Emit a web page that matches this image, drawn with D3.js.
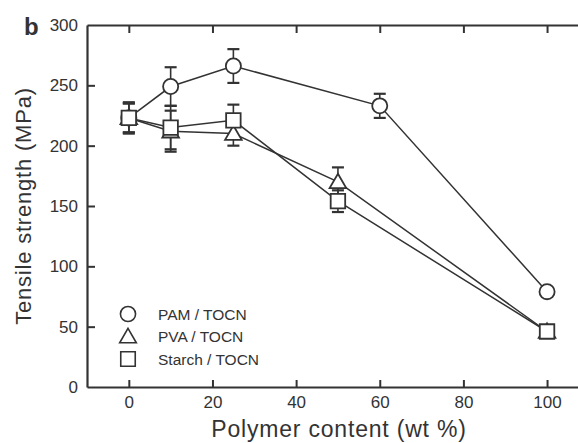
<!DOCTYPE html>
<html>
<head>
<meta charset="utf-8">
<script src="https://cdn.jsdelivr.net/npm/d3@7"></script>
<style>
  body { margin: 0; background: #fff; }
  text { font-family: "Liberation Sans", Arial, sans-serif; fill: #333; }
</style>
</head>
<body>
<div id="chart"></div>
<script>
// data
const seriesNames = ["PAM / TOCN", "PVA / TOCN", "Starch / TOCN"];
const pamX = [0, 10, 25, 60, 100];
const pamY = [223, 249, 266, 233, 79];
const pamErr = [12, 16, 14, 10, 0];
const pvaX = [0, 10, 25, 50, 100];
const pvaY = [223, 212, 210, 170, 46];
const pvaErr = [12, 17, 10, 12, 0];
const starchX = [0, 10, 25, 50, 100];
const starchY = [223, 215, 221, 154, 46];
const starchErr = [13, 18, 13, 9, 0];
const xTicks = [0, 20, 40, 60, 80, 100];
const yTicks = [0, 50, 100, 150, 200, 250, 300];

const series = [
  { name: seriesNames[0], shape: "circle", pts: pamX.map((x, i) => ({ x, y: pamY[i], e: pamErr[i] })) },
  { name: seriesNames[1], shape: "triangle", pts: pvaX.map((x, i) => ({ x, y: pvaY[i], e: pvaErr[i] })) },
  { name: seriesNames[2], shape: "square", pts: starchX.map((x, i) => ({ x, y: starchY[i], e: starchErr[i] })) }
];

const W = 578, H = 443;
const margin = { top: 25, right: 0, bottom: 56, left: 87 };
const ink = "#333";

const svg = d3.select("#chart").append("svg")
  .attr("width", W).attr("height", H);

const x = d3.scaleLinear().domain([-10, 107.4]).range([margin.left, W - margin.right]);
const y = d3.scaleLinear().domain([0, 300]).range([H - margin.bottom, margin.top]);

// axes (ticks point inward)
const gx = svg.append("g")
  .attr("transform", `translate(0,${y(0)})`)
  .call(d3.axisBottom(x).tickValues(xTicks).tickSize(-7).tickSizeOuter(0).tickPadding(9));
const gt = svg.append("g")
  .attr("transform", `translate(0,${y(300)})`)
  .call(d3.axisTop(x).tickValues(xTicks).tickSize(-8).tickSizeOuter(0).tickFormat(""));
const gy = svg.append("g")
  .attr("transform", `translate(${x(-10)},0)`)
  .call(d3.axisLeft(y).tickValues(yTicks).tickSize(-8).tickSizeOuter(0).tickPadding(9));

[gx, gt, gy].forEach(g => {
  g.select(".domain").attr("stroke", ink).attr("stroke-width", 2.2);
  g.selectAll(".tick line").attr("stroke", ink).attr("stroke-width", 2);
  g.selectAll(".tick text").style("font-size", "17px").attr("fill", ink);
});
gy.selectAll(".tick line").filter(d => d === 0 || d === 300).remove();

// axis titles
svg.append("text")
  .attr("x", 339)
  .attr("y", 437)
  .attr("text-anchor", "middle")
  .style("font-size", "23px")
  .style("letter-spacing", "0.8px")
  .text("Polymer content (wt %)");

svg.append("text")
  .attr("transform", `translate(31,${(y(0) + y(300)) / 2}) rotate(-90)`)
  .attr("text-anchor", "middle")
  .style("font-size", "22px")
  .style("letter-spacing", "0.8px")
  .text("Tensile strength (MPa)");

svg.append("text")
  .attr("x", 24).attr("y", 35)
  .style("font-size", "24px").style("font-weight", "bold")
  .attr("fill", "#222")
  .text("b");

// lines
const line = d3.line().x(d => x(d.x)).y(d => y(d.y));
svg.append("g").selectAll("path")
  .data(series)
  .join("path")
  .attr("fill", "none")
  .attr("stroke", ink)
  .attr("stroke-width", 1.5)
  .attr("d", d => line(d.pts));

// error bars
const eb = svg.append("g").attr("stroke", ink);
series.forEach(s => {
  s.pts.filter(p => p.e > 0).forEach(p => {
    const cx = x(p.x);
    eb.append("line").attr("x1", cx).attr("x2", cx)
      .attr("y1", y(p.y - p.e)).attr("y2", y(p.y + p.e)).attr("stroke-width", 1.6);
    [p.y - p.e, p.y + p.e].forEach(v => {
      eb.append("line").attr("x1", cx - 6).attr("x2", cx + 6)
        .attr("y1", y(v)).attr("y2", y(v)).attr("stroke-width", 2.2);
    });
  });
});

// markers
const sym = {
  circle: d3.symbol(d3.symbolCircle, 180)(),
  triangle: d3.symbol(d3.symbolTriangle, 120)(),
  square: d3.symbol(d3.symbolSquare, 210)()
};
series.forEach(s => {
  svg.append("g").selectAll("path")
    .data(s.pts)
    .join("path")
    .attr("d", sym[s.shape])
    .attr("transform", d => `translate(${x(d.x)},${y(d.y) + (s.shape === "triangle" ? 1.5 : 0)})`)
    .attr("fill", "#fff")
    .attr("stroke", ink)
    .attr("stroke-width", 1.8);
});

// legend
const legend = svg.append("g").attr("transform", "translate(128,314)");
series.forEach((s, i) => {
  const row = legend.append("g").attr("transform", `translate(0,${i * 22.5})`);
  row.append("path")
    .attr("d", sym[s.shape])
    .attr("transform", s.shape === "triangle" ? "translate(0,1.5)" : null)
    .attr("fill", "#fff")
    .attr("stroke", ink)
    .attr("stroke-width", 1.6);
  row.append("text")
    .attr("x", 30).attr("y", 5.5)
    .style("font-size", "15.5px")
    .text(s.name);
});
</script>
</body>
</html>
